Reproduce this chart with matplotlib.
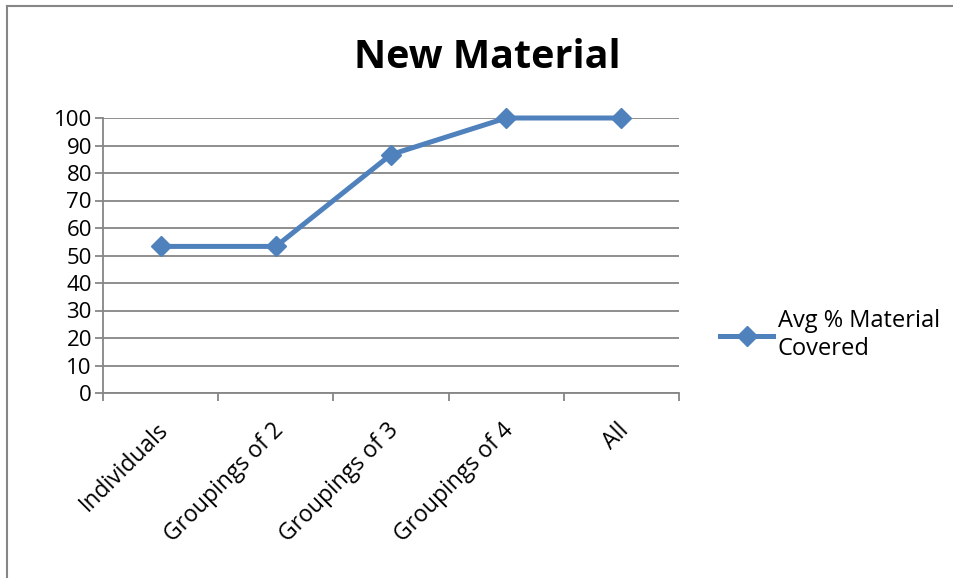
import numpy as np
import matplotlib.pyplot as plt
import matplotlib.transforms as mtransforms
from matplotlib.lines import Line2D

plt.rcParams['font.family'] = ['Open Sans', 'DejaVu Sans']

categories = ['Individuals', 'Groupings of 2', 'Groupings of 3', 'Groupings of 4', 'All']
avg_covered = [53.3, 53.3, 86.7, 100, 100]
series_name = 'Avg % Material\nCovered'

blue = '#4F81BD'
grey = '#868686'
fs = 16

fig = plt.figure(figsize=(9.54, 5.78), dpi=100)
ax = fig.add_axes([103 / 954, 1 - 393 / 578, 576 / 954, 275 / 578])

x = np.arange(len(categories))
ax.plot(x, avg_covered, color=blue, lw=3.6, marker='D', markersize=10,
        markerfacecolor=blue, markeredgecolor=blue, label=series_name,
        zorder=3, clip_on=False)

ax.set_xlim(-0.5, len(categories) - 0.5)
ax.set_ylim(0, 100)
ax.set_yticks(np.arange(0, 101, 10))
ax.grid(axis='y', color=grey, lw=1.3)
ax.set_axisbelow(True)

for s in ['top', 'right']:
    ax.spines[s].set_visible(False)
for s in ['left', 'bottom']:
    ax.spines[s].set_color(grey)
    ax.spines[s].set_linewidth(1.3)

# ticks sit on the boundaries between categories
ax.set_xticks(np.arange(-0.5, len(categories)))
ax.set_xticklabels([])
ax.tick_params(axis='x', length=6, width=1.3, color=grey)
ax.tick_params(axis='y', length=6, width=1.3, color=grey, labelsize=fs, pad=2)

offset = mtransforms.offset_copy(ax.get_xaxis_transform(), fig=fig, x=4, y=-34, units='dots')
for xi, cat in zip(x, categories):
    ax.text(xi, 0, cat, transform=offset, rotation=45, ha='right', va='center',
            rotation_mode='anchor', fontsize=16.5)

fig.text(487 / 954, 1 - 57 / 578, 'New Material', ha='center', va='center',
         fontsize=28.5, fontweight='bold')

fig.legend(loc='center left', bbox_to_anchor=(720 / 954, 1 - 335 / 578), frameon=False,
           fontsize=17, handlelength=2.25, handletextpad=0.2, borderpad=0,
           borderaxespad=0, labelspacing=0.2)

# outer chart border (only top and left edges show)
fig.add_artist(Line2D([7 / 954, 7 / 954], [0, 1 - 6 / 578], transform=fig.transFigure, color=grey, lw=1.5))
fig.add_artist(Line2D([7 / 954, 1], [1 - 6 / 578, 1 - 6 / 578], transform=fig.transFigure, color=grey, lw=1.5))

fig.savefig('out.png', dpi=100)
